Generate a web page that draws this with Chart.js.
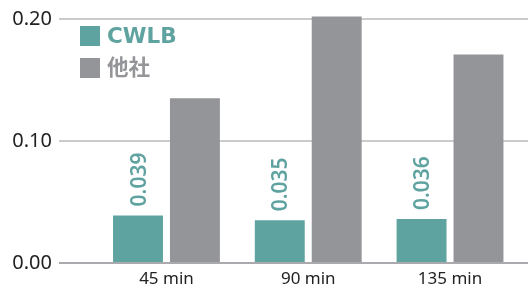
<!DOCTYPE html>
<html>
<head>
<meta charset="utf-8">
<script src="https://cdn.jsdelivr.net/npm/chart.js@4/dist/chart.umd.min.js"></script>
<style>
  html, body { margin: 0; padding: 0; background: #ffffff; }
  #wrap { width: 528px; height: 289px; position: relative; }
</style>
</head>
<body>
<div id="wrap"><canvas id="c"></canvas></div>
<script>
// ---- data ----
const categories = ['45 min', '90 min', '135 min'];
const seriesNames = ['CWLB', '他社'];
const cwlbValues = [0.039, 0.035, 0.036];
const otherValues = [0.135, 0.202, 0.171];
const yTickValues = [0, 0.1, 0.2];

// ---- style ----
const TEAL = '#5fa3a0';
const GREY = '#949599';
const FONT = '"Noto Sans", "Noto Sans CJK JP", sans-serif';
const LEGEND_FONT = '"DejaVu Sans", "Noto Sans CJK JP", sans-serif';

const toPoints = (vals) => vals.map((v, i) => ({ x: i + 1, y: v }));

const valueLabelPlugin = {
  id: 'valueLabels',
  afterDatasetsDraw(chart) {
    const ctx = chart.ctx;
    const meta = chart.getDatasetMeta(0);
    ctx.save();
    ctx.font = '600 21px ' + FONT;
    ctx.fillStyle = TEAL;
    ctx.textAlign = 'left';
    ctx.textBaseline = 'alphabetic';
    meta.data.forEach((bar, i) => {
      ctx.save();
      ctx.translate(bar.x + 7.5, bar.y - 9);
      ctx.rotate(-Math.PI / 2);
      ctx.fillText(cwlbValues[i].toFixed(3), 0, 0);
      ctx.restore();
    });
    ctx.restore();
  }
};

const legendPlugin = {
  id: 'insideLegend',
  afterDraw(chart) {
    const ctx = chart.ctx;
    ctx.save();
    ctx.font = 'bold 21.5px ' + LEGEND_FONT;
    ctx.textAlign = 'left';
    ctx.textBaseline = 'middle';
    chart.data.datasets.forEach((ds, i) => {
      const top = 26 + i * 32;
      ctx.fillStyle = ds.backgroundColor;
      ctx.fillRect(80, top, 20, 20);
      ctx.fillText(ds.label, 107, top + 11);
    });
    ctx.restore();
  }
};

new Chart(document.getElementById('c'), {
  type: 'bar',
  data: {
    datasets: [
      { label: seriesNames[0], data: toPoints(cwlbValues), backgroundColor: TEAL, clip: false },
      { label: seriesNames[1], data: toPoints(otherValues), backgroundColor: GREY, clip: false }
    ]
  },
  options: {
    responsive: true,
    maintainAspectRatio: false,
    animation: false,
    events: [],
    layout: { padding: { top: 16, left: 0, right: 0, bottom: 0 } },
    categoryPercentage: 0.803,
    barPercentage: 0.877,
    plugins: {
      legend: { display: false },
      tooltip: { enabled: false }
    },
    scales: {
      x: {
        type: 'linear',
        min: 0.242,
        max: 3.55,
        offset: false,
        grid: { display: false, drawTicks: true, tickLength: 5.6 },
        border: { display: false },
        ticks: {
          stepSize: 1,
          includeBounds: false,
          autoSkip: false,
          maxRotation: 0,
          padding: 0,
          color: '#222222',
          font: { family: FONT, size: 17 },
          callback: (v) => categories[v - 1] !== undefined ? categories[v - 1] : ''
        }
      },
      y: {
        min: yTickValues[0],
        max: yTickValues[yTickValues.length - 1],
        afterFit: (s) => { s.width = 59; },
        grid: {
          drawTicks: false,
          lineWidth: 2,
          color: (c) => (c.tick && c.tick.value === 0) ? '#a9a9ae' : '#cbcbcb'
        },
        border: { display: false },
        afterBuildTicks: (s) => { s.ticks = yTickValues.map(v => ({ value: v })); },
        ticks: {
          padding: 7,
          color: '#222222',
          font: { family: FONT, size: 20 },
          callback: (v) => Number(v).toFixed(2)
        }
      }
    }
  },
  plugins: [valueLabelPlugin, legendPlugin]
});
</script>
</body>
</html>
